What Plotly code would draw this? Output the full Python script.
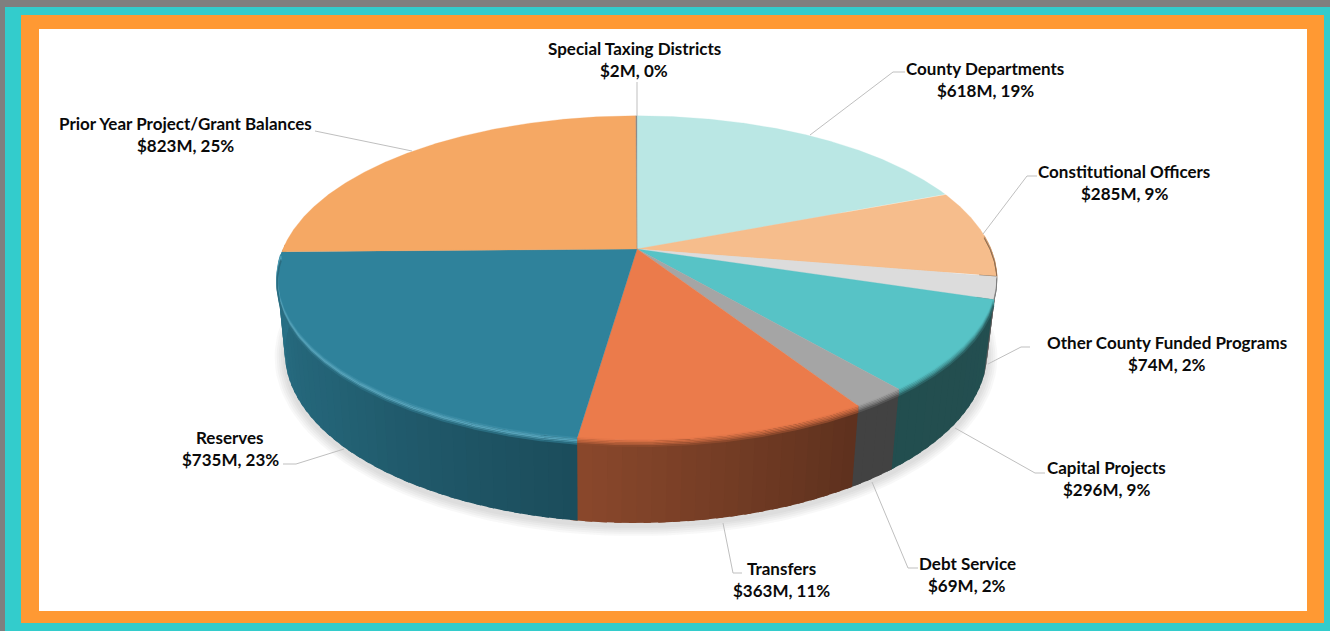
import numpy as np
import plotly.graph_objects as go

# ---- data ----
categories = ["County Departments", "Constitutional Officers", "Other County Funded Programs",
              "Capital Projects", "Debt Service", "Transfers", "Reserves",
              "Prior Year Project/Grant Balances", "Special Taxing Districts"]
values_musd = [618, 285, 74, 296, 69, 363, 735, 823, 2]
top_colors = ["#BAE7E4", "#F6BD8C", "#DCDCDC", "#57C3C6", "#A5A5A5", "#EB7B4B", "#2F829B", "#F5A864", "#8A8A8A"]

# label placement (centre x, first-line y) and leader polylines
label_pos = [(985, 68), (1124, 171), (1167, 342), (1106, 467), (967, 563), (781, 568), (230, 437), (185, 123), (634, 48)]
leaders = [[(905, 72), (893, 72), (810, 135)],
           [(1037, 176), (1027, 176), (983, 234)],
           [(1030, 347), (1021, 347), (988, 364)],
           [(1045, 473), (1035, 473), (955, 428)],
           [(918, 568), (908, 568), (872, 482)],
           [(742, 573), (733, 573), (723, 523)],
           [(283, 464), (296, 464), (344, 449)],
           [(315, 131), (412, 151)],
           [(637, 82), (637, 116)]]

# ---- projection of the pie ----
K = 0.179
TOP = dict(cx=637, cy=249, R=354, b=157)
BOT = dict(cx=636, cy=322, R=345.5, b=165)


def proj(theta_deg, g, k=K):
    t = np.radians(theta_deg)
    x, y = np.sin(t), np.cos(t)
    d = 1 + k * y
    return g["cx"] + g["R"] * x / d, g["cy"] - g["b"] * y / d


def hex2rgb(c):
    return np.array([int(c[i:i + 2], 16) for i in (1, 3, 5)], float)


def rgb(a):
    a = np.clip(a, 0, 255)
    return "rgb(%d,%d,%d)" % tuple(a)


def side_factor(theta):
    return np.interp(theta, [85, 148, 188, 230, 272], [0.41, 0.40, 0.59, 0.76, 0.88])


total = sum(values_musd)
bounds = np.cumsum([0] + values_musd) / total * 360
fig = go.Figure()


def add_poly(xs, ys, color, line=0.0):
    fig.add_trace(go.Scatter(x=xs, y=ys, mode="lines", fill="toself", fillcolor=color,
                             line=dict(color=color, width=line), hoverinfo="skip", showlegend=False))


# soft shadow below the pie
th = np.arange(0, 360.5, 2)
for d in range(10, 0, -2):
    bx, by = proj(th, BOT)
    sx = BOT["cx"] + (bx - BOT["cx"]) * (1 + d / 345)
    sy = BOT["cy"] + 3 + (by - BOT["cy"]) * (1 + d / 200)
    add_poly(sx, sy, "rgba(90,90,90,0.045)", 0)

# side wall
VIS0, VIS1 = 85, 272
for i, c in enumerate(top_colors):
    a, b = max(bounds[i], VIS0), min(bounds[i + 1], VIS1)
    if a >= b:
        continue
    base = hex2rgb(c)
    edges = np.append(np.arange(a, b, 2.0), b)
    for t0, t1 in zip(edges[:-1], edges[1:]):
        # each strip runs on under the next one so that no seam shows
        seg = np.linspace(t0, min(t1 + 1.0, VIS1), 4)
        tx, ty = proj(seg, TOP)
        bx, by = proj(seg[::-1], BOT)
        add_poly(np.r_[tx, bx, tx[0]], np.r_[ty, by, ty[0]], rgb(base * side_factor((t0 + t1) / 2)))

# top face
for i, c in enumerate(top_colors):
    seg = np.arange(bounds[i], bounds[i + 1] + 0.25, 0.25)
    seg = np.append(seg[seg < bounds[i + 1]], bounds[i + 1])
    tx, ty = proj(seg, TOP)
    add_poly(np.r_[TOP["cx"], tx, TOP["cx"]], np.r_[TOP["cy"], ty, TOP["cy"]], c, 0.3)

# bevel on the front rim
for i, c in enumerate(top_colors):
    a, b = max(bounds[i], VIS0), min(bounds[i + 1], 268)
    if a >= b:
        continue
    seg = np.arange(a, b + 0.5, 0.5)
    seg = np.append(seg[seg < b], b)
    tx, ty = proj(seg, TOP)
    base = hex2rgb(c)
    mid = (a + b) / 2
    side = base * side_factor(mid)
    glow = 1.0 if mid > 190 else 0.0
    scale = 0.45 if mid < 110 else 1.0
    for off, mix, lift in [(0, 0.05, 10), (1.5, 0.2, 30), (3, 0.35, 45), (4.5, 0.55, 25), (6, 0.8, 5)]:
        col = base * (1 - mix) + side * mix + glow * lift
        fig.add_trace(go.Scatter(x=tx, y=ty + off * scale, mode="lines", line=dict(color=rgb(col), width=1.7 * scale),
                                 hoverinfo="skip", showlegend=False))

# leader lines
for pts in leaders:
    fig.add_trace(go.Scatter(x=[p[0] for p in pts], y=[p[1] for p in pts], mode="lines",
                             line=dict(color="#BFBFBF", width=1), hoverinfo="skip", showlegend=False))

# labels
FONT = dict(family="Lato, 'Open Sans', sans-serif", size=17, color="#0A0A0A")
annotations = []
for name, v, (lx, ly) in zip(categories, values_musd, label_pos):
    second = f"${v}M, {round(v / total * 100)}%"
    annotations.append(dict(x=lx, y=ly, text=f"<b>{name}</b>", showarrow=False, xanchor="center",
                            yanchor="middle", font=FONT))
    annotations.append(dict(x=lx, y=ly + 22, text=f"<b>{second}</b>", showarrow=False, xanchor="center",
                            yanchor="middle", font=FONT))

# frame
shapes = [
    dict(type="rect", x0=0, x1=1330, y0=0, y1=631, fillcolor="#7F7F7F", line_width=0, layer="below"),
    dict(type="rect", x0=5, x1=1330, y0=7, y1=631, fillcolor="#33CCCC", line_width=0, layer="below"),
    dict(type="rect", x0=21, x1=1324, y0=15, y1=623, fillcolor="#FF9933", line_width=0, layer="below"),
    dict(type="rect", x0=39, x1=1307, y0=29, y1=611, fillcolor="#FFFFFF", line_width=0, layer="below"),
]

fig.update_layout(width=1330, height=631, margin=dict(l=0, r=0, t=0, b=0),
                  paper_bgcolor="white", plot_bgcolor="white", showlegend=False,
                  xaxis=dict(range=[0, 1330], visible=False, fixedrange=True),
                  yaxis=dict(range=[631, 0], visible=False, fixedrange=True),
                  shapes=shapes, annotations=annotations)
fig.write_html("out.html", post_script="document.body.style.margin='0';document.body.style.overflow='hidden';",
               config=dict(displayModeBar=False))
